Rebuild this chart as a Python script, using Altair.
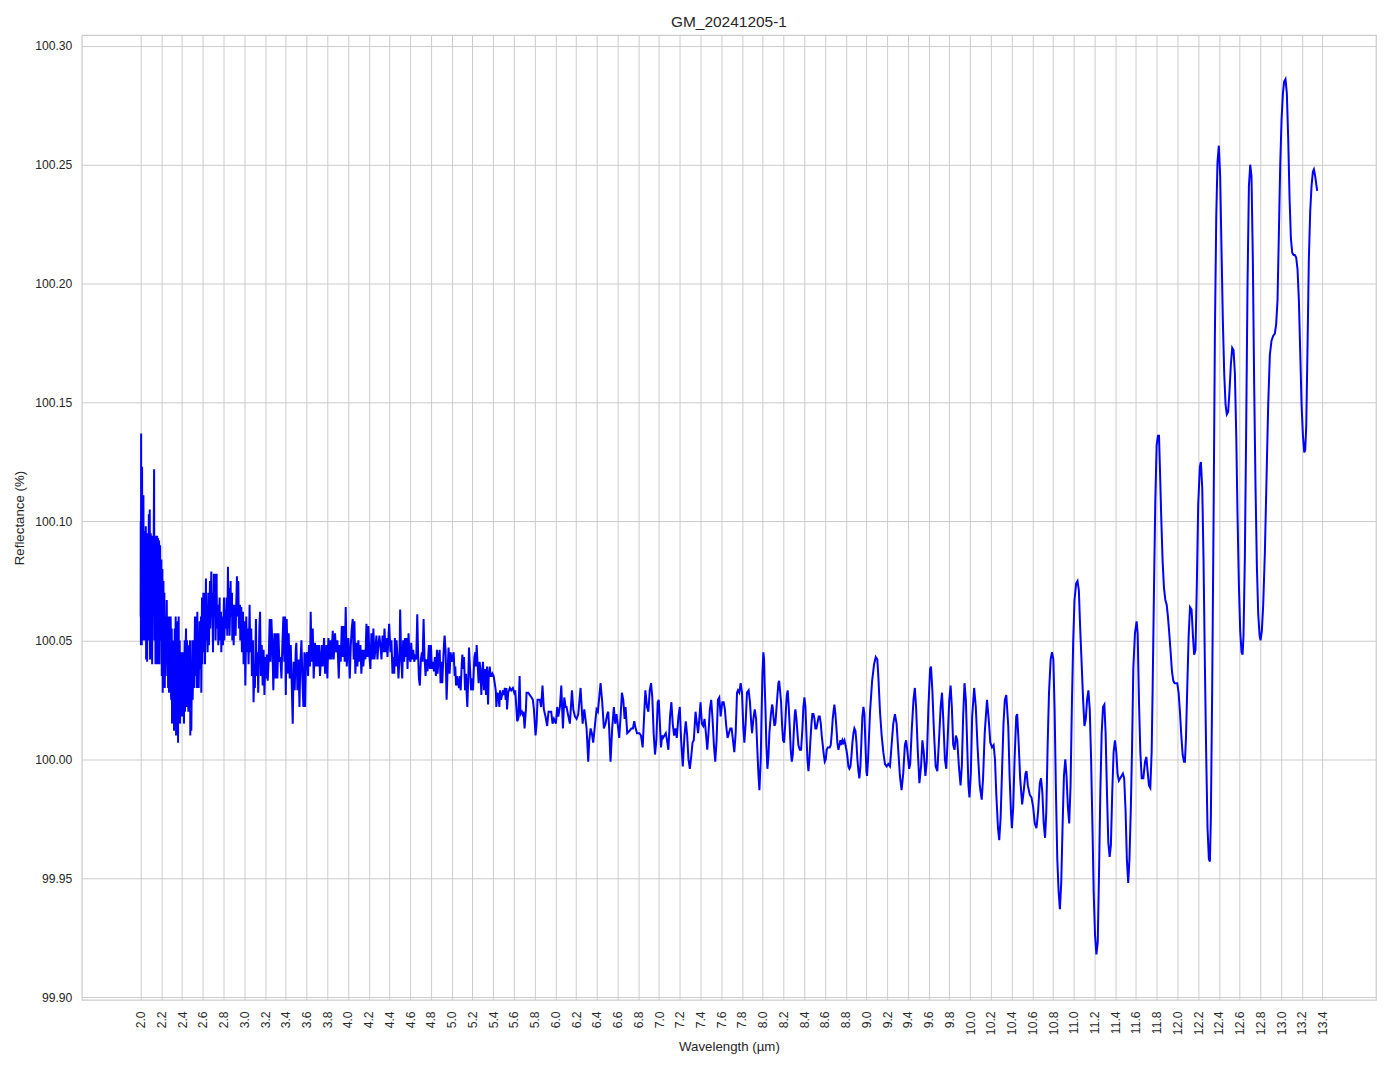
import altair as alt
import pandas as pd

# ---- spectrum in segments: (wavelength µm, reflectance %) ----
seg_a = [(2.000, 100.060), (2.001, 100.100), (2.003, 100.048), (2.005, 100.137), (2.007, 100.050),
         (2.009, 100.095), (2.011, 100.048), (2.014, 100.123), (2.018, 100.060), (2.021, 100.105),
         (2.024, 100.050), (2.027, 100.111), (2.030, 100.055), (2.034, 100.090), (2.037, 100.060),
         (2.040, 100.096), (2.043, 100.050), (2.047, 100.085), (2.050, 100.098), (2.053, 100.042),
         (2.056, 100.080), (2.059, 100.090), (2.063, 100.041), (2.066, 100.070), (2.069, 100.095),
         (2.072, 100.050), (2.076, 100.085), (2.079, 100.103), (2.082, 100.060), (2.088, 100.105),
         (2.091, 100.042), (2.095, 100.080), (2.098, 100.095), (2.101, 100.055), (2.104, 100.085),
         (2.107, 100.094), (2.111, 100.040), (2.114, 100.075), (2.117, 100.090), (2.120, 100.060),
         (2.125, 100.085), (2.130, 100.122), (2.133, 100.050), (2.137, 100.080), (2.140, 100.094),
         (2.143, 100.040), (2.146, 100.070), (2.149, 100.085), (2.152, 100.045), (2.156, 100.080),
         (2.159, 100.094), (2.162, 100.040), (2.165, 100.075), (2.168, 100.093), (2.172, 100.050),
         (2.175, 100.080), (2.178, 100.092), (2.181, 100.040), (2.185, 100.075), (2.188, 100.090),
         (2.191, 100.050), (2.196, 100.070), (2.200, 100.084), (2.204, 100.035), (2.207, 100.065),
         (2.210, 100.080), (2.213, 100.028), (2.217, 100.060), (2.220, 100.075), (2.223, 100.040),
         (2.226, 100.060), (2.229, 100.070), (2.233, 100.030), (2.236, 100.055), (2.239, 100.060),
         (2.242, 100.035), (2.247, 100.050), (2.252, 100.067), (2.255, 100.040), (2.258, 100.055),
         (2.261, 100.060), (2.265, 100.030), (2.268, 100.050), (2.271, 100.060), (2.274, 100.028),
         (2.278, 100.045), (2.281, 100.055), (2.284, 100.035), (2.287, 100.050), (2.290, 100.060),
         (2.294, 100.025), (2.297, 100.045), (2.300, 100.055), (2.303, 100.015), (2.306, 100.040),
         (2.310, 100.050), (2.313, 100.020), (2.316, 100.040), (2.319, 100.048), (2.322, 100.012),
         (2.326, 100.040), (2.329, 100.055), (2.332, 100.020), (2.335, 100.045), (2.338, 100.060),
         (2.342, 100.010), (2.345, 100.035), (2.348, 100.050), (2.351, 100.020), (2.355, 100.045),
         (2.358, 100.058), (2.361, 100.007), (2.364, 100.040), (2.367, 100.060), (2.370, 100.025),
         (2.374, 100.040), (2.377, 100.050), (2.380, 100.015), (2.384, 100.035), (2.387, 100.045),
         (2.390, 100.030), (2.393, 100.040), (2.396, 100.045), (2.399, 100.018), (2.403, 100.030),
         (2.406, 100.035), (2.409, 100.025), (2.412, 100.040), (2.415, 100.045), (2.418, 100.015),
         (2.422, 100.040), (2.425, 100.050), (2.428, 100.020), (2.433, 100.045), (2.438, 100.055),
         (2.441, 100.022), (2.444, 100.040), (2.447, 100.050), (2.450, 100.025), (2.454, 100.040),
         (2.457, 100.048), (2.460, 100.020), (2.464, 100.035), (2.467, 100.045), (2.470, 100.025),
         (2.473, 100.040), (2.476, 100.050), (2.479, 100.010), (2.483, 100.030), (2.486, 100.040),
         (2.489, 100.012), (2.494, 100.035), (2.499, 100.050)]

seg_b = [(2.502, 100.025), (2.507, 100.040), (2.512, 100.050), (2.515, 100.030), (2.520, 100.045),
         (2.524, 100.060), (2.528, 100.035), (2.533, 100.050), (2.537, 100.060), (2.541, 100.030),
         (2.547, 100.062), (2.550, 100.035), (2.557, 100.050), (2.560, 100.030), (2.565, 100.045),
         (2.569, 100.058), (2.573, 100.038), (2.578, 100.050), (2.582, 100.060), (2.585, 100.028),
         (2.592, 100.068), (2.595, 100.040), (2.600, 100.055), (2.605, 100.070), (2.608, 100.045),
         (2.613, 100.060), (2.618, 100.070), (2.621, 100.040), (2.626, 100.060), (2.630, 100.076),
         (2.634, 100.050), (2.640, 100.065), (2.646, 100.045), (2.653, 100.070), (2.659, 100.048),
         (2.664, 100.062), (2.669, 100.075), (2.672, 100.055), (2.677, 100.068), (2.682, 100.079),
         (2.685, 100.060), (2.691, 100.070), (2.698, 100.045), (2.703, 100.065), (2.707, 100.078),
         (2.711, 100.060), (2.716, 100.068), (2.720, 100.078), (2.723, 100.050), (2.728, 100.065),
         (2.733, 100.078), (2.736, 100.055), (2.741, 100.060), (2.746, 100.065), (2.749, 100.048),
         (2.756, 100.058), (2.762, 100.068), (2.765, 100.050), (2.770, 100.058), (2.775, 100.062),
         (2.778, 100.045), (2.787, 100.060), (2.794, 100.048), (2.800, 100.060), (2.804, 100.068),
         (2.807, 100.050), (2.816, 100.063), (2.820, 100.055), (2.829, 100.068), (2.836, 100.052),
         (2.842, 100.081), (2.849, 100.055), (2.855, 100.072), (2.858, 100.052), (2.864, 100.065),
         (2.868, 100.075), (2.871, 100.060), (2.881, 100.070), (2.884, 100.050), (2.893, 100.065),
         (2.897, 100.048), (2.903, 100.058), (2.909, 100.065), (2.916, 100.052), (2.922, 100.065),
         (2.929, 100.077), (2.932, 100.060), (2.942, 100.075), (2.948, 100.055), (2.958, 100.065),
         (2.961, 100.050), (2.971, 100.064), (2.977, 100.045), (2.987, 100.062), (2.993, 100.040),
         (3.003, 100.058), (3.010, 100.031), (3.019, 100.060), (3.026, 100.045), (3.035, 100.055),
         (3.041, 100.040), (3.051, 100.065), (3.057, 100.045), (3.067, 100.055), (3.073, 100.035),
         (3.083, 100.050), (3.089, 100.024), (3.099, 100.040), (3.102, 100.030), (3.112, 100.059),
         (3.118, 100.035), (3.128, 100.045), (3.134, 100.028)]

seg_c = [(3.145, 100.055), (3.152, 100.062), (3.160, 100.035), (3.168, 100.048), (3.177, 100.031),
         (3.186, 100.046), (3.194, 100.027), (3.203, 100.043), (3.210, 100.034), (3.217, 100.044),
         (3.226, 100.033), (3.235, 100.042), (3.245, 100.059), (3.252, 100.041), (3.261, 100.059),
         (3.271, 100.048), (3.280, 100.029), (3.290, 100.053), (3.300, 100.034), (3.310, 100.053),
         (3.319, 100.034), (3.329, 100.053), (3.338, 100.041), (3.348, 100.043), (3.358, 100.034),
         (3.367, 100.048), (3.377, 100.060), (3.386, 100.041), (3.393, 100.060), (3.400, 100.027),
         (3.409, 100.059), (3.419, 100.036), (3.428, 100.053), (3.438, 100.034), (3.448, 100.048),
         (3.457, 100.032), (3.467, 100.015), (3.476, 100.041), (3.486, 100.029), (3.496, 100.046),
         (3.502, 100.049), (3.512, 100.029), (3.522, 100.042), (3.532, 100.022), (3.541, 100.041),
         (3.551, 100.050), (3.560, 100.034), (3.570, 100.022), (3.580, 100.045), (3.586, 100.022),
         (3.595, 100.043), (3.605, 100.045), (3.615, 100.035), (3.624, 100.048), (3.634, 100.039),
         (3.640, 100.062), (3.650, 100.041), (3.660, 100.055), (3.669, 100.034), (3.682, 100.049),
         (3.692, 100.039), (3.701, 100.048), (3.711, 100.039), (3.721, 100.048), (3.730, 100.035),
         (3.747, 100.048), (3.756, 100.039), (3.769, 100.051), (3.779, 100.036), (3.792, 100.048),
         (3.801, 100.034), (3.811, 100.051), (3.821, 100.042), (3.830, 100.050), (3.840, 100.042),
         (3.853, 100.054), (3.862, 100.042), (3.875, 100.053), (3.885, 100.045), (3.898, 100.050),
         (3.911, 100.034), (3.920, 100.048), (3.930, 100.041), (3.940, 100.056), (3.950, 100.043),
         (3.959, 100.056), (3.968, 100.041), (3.978, 100.064), (3.988, 100.039), (3.998, 100.048),
         (4.004, 100.051), (4.017, 100.034), (4.027, 100.048), (4.036, 100.055), (4.046, 100.059),
         (4.055, 100.042), (4.062, 100.058), (4.071, 100.036), (4.081, 100.049), (4.091, 100.039),
         (4.100, 100.050), (4.110, 100.041), (4.120, 100.048), (4.129, 100.036), (4.139, 100.046),
         (4.148, 100.039), (4.158, 100.046), (4.168, 100.042), (4.178, 100.057), (4.187, 100.043),
         (4.197, 100.056), (4.207, 100.043), (4.216, 100.038), (4.226, 100.053), (4.236, 100.042),
         (4.245, 100.055), (4.255, 100.042), (4.264, 100.046), (4.274, 100.052), (4.284, 100.042),
         (4.293, 100.048), (4.303, 100.052), (4.316, 100.046)]

seg_d = [(4.323, 100.042), (4.333, 100.052), (4.342, 100.045), (4.352, 100.055), (4.362, 100.045),
         (4.371, 100.051), (4.381, 100.043), (4.391, 100.052), (4.397, 100.057), (4.410, 100.045),
         (4.419, 100.050), (4.429, 100.036), (4.439, 100.043), (4.446, 100.036), (4.452, 100.051),
         (4.462, 100.039), (4.468, 100.050), (4.478, 100.043), (4.487, 100.034), (4.497, 100.043),
         (4.503, 100.063), (4.513, 100.043), (4.523, 100.034), (4.532, 100.050), (4.542, 100.041),
         (4.549, 100.051), (4.558, 100.043), (4.568, 100.051), (4.574, 100.038), (4.584, 100.053),
         (4.594, 100.042), (4.603, 100.041), (4.610, 100.049), (4.619, 100.042), (4.629, 100.046),
         (4.639, 100.041), (4.648, 100.043), (4.658, 100.042), (4.668, 100.061), (4.677, 100.043),
         (4.684, 100.034), (4.693, 100.031), (4.703, 100.042), (4.713, 100.045), (4.719, 100.041),
         (4.729, 100.059), (4.738, 100.043), (4.748, 100.035), (4.758, 100.042), (4.767, 100.037),
         (4.774, 100.043), (4.780, 100.048), (4.790, 100.038), (4.800, 100.048), (4.809, 100.038),
         (4.819, 100.041), (4.829, 100.037), (4.838, 100.043), (4.848, 100.035), (4.858, 100.046),
         (4.864, 100.036), (4.874, 100.043), (4.884, 100.046), (4.893, 100.032), (4.903, 100.041),
         (4.909, 100.032), (4.919, 100.042), (4.925, 100.048), (4.932, 100.052), (4.941, 100.046),
         (4.951, 100.025), (4.961, 100.038), (4.970, 100.047), (4.980, 100.036), (4.990, 100.045),
         (5.000, 100.041), (5.009, 100.043), (5.019, 100.045), (5.029, 100.035), (5.035, 100.039),
         (5.042, 100.031), (5.051, 100.035), (5.061, 100.032), (5.071, 100.030), (5.077, 100.035),
         (5.087, 100.029), (5.096, 100.039), (5.103, 100.044), (5.112, 100.038), (5.119, 100.043),
         (5.129, 100.029), (5.138, 100.036), (5.145, 100.027), (5.151, 100.022), (5.161, 100.036),
         (5.167, 100.047), (5.177, 100.038), (5.187, 100.029), (5.196, 100.034), (5.206, 100.029),
         (5.212, 100.036), (5.219, 100.043), (5.228, 100.045), (5.235, 100.039), (5.241, 100.048),
         (5.251, 100.039), (5.260, 100.032), (5.270, 100.041), (5.280, 100.035), (5.286, 100.027),
         (5.296, 100.038), (5.302, 100.041), (5.312, 100.029), (5.322, 100.038), (5.331, 100.027),
         (5.341, 100.039), (5.351, 100.023), (5.357, 100.035), (5.367, 100.039), (5.376, 100.035),
         (5.386, 100.035), (5.393, 100.036), (5.405, 100.035), (5.415, 100.032), (5.425, 100.029),
         (5.431, 100.022), (5.441, 100.028), (5.450, 100.027), (5.460, 100.022), (5.467, 100.029),
         (5.476, 100.025), (5.486, 100.027), (5.496, 100.029), (5.505, 100.027), (5.512, 100.030),
         (5.521, 100.025), (5.528, 100.030), (5.534, 100.021)]

seg_e = [(5.545, 100.028), (5.561, 100.030), (5.574, 100.029), (5.590, 100.030), (5.603, 100.028),
         (5.613, 100.029), (5.619, 100.025), (5.632, 100.016), (5.642, 100.017), (5.655, 100.035),
         (5.664, 100.019), (5.677, 100.020), (5.684, 100.019), (5.693, 100.020), (5.703, 100.013),
         (5.716, 100.021), (5.722, 100.028), (5.738, 100.028), (5.754, 100.027), (5.770, 100.026),
         (5.783, 100.025), (5.793, 100.021), (5.809, 100.010), (5.819, 100.015), (5.828, 100.025),
         (5.841, 100.025), (5.851, 100.025), (5.863, 100.022), (5.876, 100.031), (5.889, 100.021),
         (5.905, 100.018), (5.921, 100.014), (5.934, 100.020), (5.947, 100.020), (5.960, 100.020),
         (5.973, 100.015), (5.986, 100.017), (6.005, 100.015), (6.018, 100.022), (6.028, 100.018),
         (6.044, 100.022), (6.057, 100.031), (6.073, 100.013), (6.086, 100.026), (6.099, 100.022),
         (6.108, 100.022), (6.121, 100.019), (6.140, 100.015), (6.160, 100.029), (6.173, 100.021),
         (6.189, 100.018), (6.205, 100.017), (6.221, 100.019), (6.243, 100.030), (6.263, 100.015),
         (6.279, 100.021), (6.301, 100.013), (6.317, 99.999), (6.327, 100.008), (6.340, 100.013),
         (6.352, 100.011), (6.365, 100.007), (6.381, 100.014), (6.397, 100.021), (6.410, 100.020),
         (6.436, 100.032), (6.452, 100.024), (6.468, 100.013), (6.484, 100.015), (6.500, 100.019),
         (6.510, 100.020), (6.519, 100.013), (6.532, 99.999), (6.548, 100.013), (6.564, 100.022),
         (6.577, 100.015), (6.590, 100.019), (6.603, 100.014), (6.616, 100.009), (6.629, 100.018),
         (6.642, 100.028), (6.655, 100.025), (6.668, 100.017), (6.677, 100.022), (6.693, 100.011),
         (6.716, 100.012), (6.732, 100.013)]

seg_f = [(6.748, 100.013), (6.761, 100.016), (6.774, 100.013), (6.787, 100.011), (6.810, 100.011),
         (6.826, 100.010), (6.842, 100.005), (6.858, 100.020), (6.868, 100.029), (6.884, 100.022),
         (6.897, 100.020), (6.910, 100.029), (6.923, 100.032), (6.935, 100.026), (6.948, 100.011),
         (6.961, 100.002), (6.974, 100.008), (6.987, 100.024), (6.997, 100.025), (7.006, 100.017),
         (7.019, 100.005), (7.029, 100.010), (7.039, 100.009), (7.052, 100.010), (7.065, 100.011),
         (7.077, 100.008), (7.090, 100.004), (7.106, 100.018), (7.119, 100.024), (7.132, 100.015),
         (7.145, 100.010), (7.158, 100.013), (7.171, 100.009), (7.187, 100.018), (7.200, 100.022),
         (7.213, 100.008), (7.229, 99.997), (7.245, 100.010), (7.258, 100.016), (7.271, 100.010),
         (7.284, 100.000), (7.297, 99.996), (7.310, 100.001), (7.323, 100.007), (7.335, 100.008),
         (7.352, 100.020), (7.365, 100.015), (7.377, 100.011), (7.390, 100.018), (7.400, 100.024),
         (7.413, 100.015), (7.426, 100.014), (7.439, 100.017), (7.452, 100.011), (7.465, 100.004),
         (7.477, 100.011), (7.490, 100.021), (7.503, 100.025), (7.516, 100.017), (7.529, 100.006),
         (7.542, 99.999), (7.555, 100.008), (7.568, 100.025), (7.581, 100.026), (7.594, 100.018),
         (7.610, 100.024), (7.623, 100.024), (7.635, 100.021), (7.648, 100.014), (7.661, 100.009),
         (7.674, 100.011), (7.687, 100.013), (7.700, 100.013), (7.713, 100.008), (7.726, 100.003),
         (7.739, 100.011), (7.752, 100.028), (7.761, 100.029), (7.774, 100.028), (7.787, 100.032),
         (7.800, 100.028), (7.813, 100.013), (7.823, 100.007), (7.835, 100.015), (7.848, 100.028),
         (7.864, 100.029), (7.877, 100.024), (7.888, 100.016)]

seg_g = [(7.897, 100.011), (7.910, 100.017), (7.923, 100.021), (7.936, 100.017), (7.946, 100.006),
         (7.958, 99.994), (7.968, 99.987), (7.981, 100.000), (7.987, 100.015), (7.997, 100.036),
         (8.006, 100.045), (8.013, 100.042), (8.019, 100.031), (8.026, 100.022), (8.035, 100.006),
         (8.045, 99.996), (8.055, 100.001), (8.064, 100.011), (8.077, 100.018), (8.090, 100.023),
         (8.096, 100.022), (8.103, 100.018), (8.113, 100.014), (8.122, 100.015), (8.132, 100.021),
         (8.142, 100.027), (8.151, 100.032), (8.158, 100.033), (8.167, 100.029), (8.177, 100.024),
         (8.187, 100.014), (8.196, 100.008), (8.206, 100.007), (8.216, 100.014), (8.225, 100.022),
         (8.232, 100.027), (8.241, 100.029), (8.251, 100.022), (8.261, 100.013), (8.270, 100.004),
         (8.280, 99.999), (8.290, 100.002), (8.299, 100.011), (8.309, 100.019), (8.315, 100.021),
         (8.325, 100.017), (8.335, 100.011), (8.344, 100.006), (8.357, 100.004), (8.370, 100.004),
         (8.383, 100.013), (8.392, 100.022), (8.402, 100.026), (8.412, 100.022), (8.421, 100.011),
         (8.431, 100.000), (8.441, 99.995), (8.450, 100.000), (8.460, 100.008), (8.470, 100.015),
         (8.479, 100.019), (8.489, 100.019), (8.499, 100.017), (8.508, 100.013), (8.518, 100.013),
         (8.531, 100.016), (8.540, 100.018), (8.550, 100.018), (8.560, 100.015), (8.569, 100.010),
         (8.579, 100.006), (8.589, 100.002), (8.598, 99.999), (8.608, 100.000), (8.617, 100.004),
         (8.627, 100.005), (8.637, 100.005), (8.646, 100.005), (8.656, 100.006), (8.666, 100.011),
         (8.675, 100.017), (8.685, 100.021), (8.691, 100.023), (8.701, 100.019), (8.711, 100.013),
         (8.720, 100.007), (8.730, 100.004), (8.740, 100.006), (8.749, 100.008), (8.759, 100.006),
         (8.769, 100.008), (8.778, 100.007), (8.788, 100.008), (8.798, 100.006), (8.807, 100.004),
         (8.817, 100.001), (8.826, 99.997), (8.836, 99.996), (8.846, 99.997), (8.855, 100.001),
         (8.865, 100.007), (8.875, 100.011), (8.884, 100.013), (8.894, 100.012), (8.904, 100.007),
         (8.913, 100.000), (8.923, 99.995), (8.932, 99.992), (8.942, 99.997), (8.952, 100.008),
         (8.961, 100.018), (8.971, 100.022), (8.981, 100.019), (8.990, 100.007), (9.000, 99.995),
         (9.006, 99.993), (9.016, 100.000), (9.035, 100.020), (9.055, 100.033), (9.074, 100.040),
         (9.090, 100.043), (9.105, 100.042)]

seg_h = [(9.116, 100.034), (9.131, 100.020), (9.147, 100.010), (9.163, 100.003), (9.179, 99.998),
         (9.195, 99.997), (9.211, 99.998), (9.227, 99.997), (9.243, 100.006), (9.259, 100.015),
         (9.275, 100.019), (9.291, 100.015), (9.307, 100.004), (9.323, 99.993), (9.339, 99.987),
         (9.355, 99.994), (9.371, 100.006), (9.383, 100.008), (9.396, 100.003), (9.412, 99.996),
         (9.422, 99.998), (9.438, 100.013), (9.454, 100.025), (9.467, 100.030), (9.479, 100.022),
         (9.495, 100.004), (9.511, 99.990), (9.527, 99.997), (9.540, 100.008), (9.553, 100.003),
         (9.569, 99.993), (9.582, 99.999), (9.598, 100.022), (9.614, 100.038), (9.623, 100.039),
         (9.636, 100.029), (9.652, 100.011), (9.668, 99.997), (9.684, 99.995), (9.700, 100.008),
         (9.716, 100.022), (9.729, 100.028), (9.741, 100.017), (9.757, 100.000), (9.770, 99.996),
         (9.783, 100.008), (9.799, 100.025), (9.812, 100.031), (9.824, 100.022), (9.837, 100.006),
         (9.850, 100.004), (9.863, 100.010), (9.876, 100.008), (9.892, 99.997), (9.908, 99.989),
         (9.920, 99.997), (9.933, 100.018), (9.946, 100.032), (9.959, 100.025), (9.972, 100.006),
         (9.984, 99.989), (9.994, 99.984), (10.007, 99.994), (10.020, 100.018), (10.039, 100.030),
         (10.055, 100.022), (10.071, 100.006), (10.093, 99.989), (10.112, 99.983), (10.125, 99.992),
         (10.141, 100.011), (10.163, 100.025), (10.179, 100.017), (10.195, 100.007), (10.211, 100.005),
         (10.227, 100.006), (10.240, 100.000), (10.253, 99.985), (10.269, 99.971), (10.281, 99.966),
         (10.294, 99.975), (10.308, 99.995), (10.322, 100.015), (10.335, 100.025), (10.349, 100.027)]

seg_i = [(10.368, 100.014), (10.381, 99.993), (10.394, 99.978), (10.403, 99.971), (10.416, 99.980),
         (10.429, 100.000), (10.445, 100.018), (10.454, 100.019), (10.467, 100.008), (10.483, 99.992),
         (10.502, 99.981), (10.518, 99.987), (10.534, 99.994), (10.544, 99.995), (10.557, 99.989),
         (10.576, 99.985), (10.592, 99.984), (10.608, 99.980), (10.624, 99.973), (10.640, 99.971),
         (10.656, 99.978), (10.672, 99.990), (10.684, 99.992), (10.697, 99.986), (10.710, 99.973),
         (10.723, 99.967), (10.735, 99.978), (10.748, 100.006), (10.761, 100.028), (10.777, 100.042),
         (10.790, 100.045), (10.803, 100.042), (10.815, 100.021), (10.828, 99.986), (10.841, 99.958),
         (10.854, 99.944), (10.866, 99.937), (10.879, 99.948), (10.892, 99.972), (10.905, 99.993),
         (10.918, 100.000), (10.930, 99.993), (10.943, 99.980), (10.956, 99.973), (10.969, 99.989),
         (10.981, 100.021), (10.994, 100.049), (11.007, 100.067), (11.023, 100.074), (11.036, 100.075),
         (11.049, 100.071), (11.061, 100.056), (11.077, 100.039), (11.090, 100.025), (11.103, 100.014),
         (11.116, 100.017), (11.128, 100.025), (11.141, 100.029), (11.154, 100.021), (11.167, 100.000),
         (11.180, 99.972), (11.192, 99.944), (11.205, 99.926), (11.218, 99.918), (11.231, 99.923),
         (11.243, 99.951), (11.256, 99.986), (11.269, 100.011), (11.282, 100.022), (11.295, 100.023),
         (11.307, 100.011), (11.320, 99.986), (11.333, 99.965), (11.346, 99.959), (11.358, 99.964),
         (11.371, 99.986), (11.384, 100.003), (11.397, 100.008), (11.410, 100.003), (11.422, 99.994),
         (11.435, 99.991), (11.448, 99.992), (11.461, 99.993), (11.474, 99.994), (11.486, 99.992),
         (11.499, 99.979), (11.512, 99.958), (11.525, 99.948), (11.537, 99.958), (11.550, 99.979)]

seg_j = [(11.562, 100.005), (11.574, 100.038), (11.590, 100.053), (11.606, 100.058), (11.616, 100.053),
         (11.629, 100.024), (11.642, 100.003), (11.655, 99.992), (11.671, 99.992), (11.687, 99.999),
         (11.700, 100.001), (11.712, 99.995), (11.725, 99.989), (11.738, 99.988), (11.751, 100.003),
         (11.761, 100.031), (11.774, 100.073), (11.786, 100.108), (11.799, 100.132), (11.812, 100.136),
         (11.822, 100.136), (11.831, 100.122), (11.844, 100.101), (11.857, 100.083), (11.870, 100.072),
         (11.883, 100.067), (11.896, 100.065), (11.908, 100.060), (11.921, 100.053), (11.934, 100.045),
         (11.947, 100.037), (11.960, 100.033), (11.973, 100.032), (11.986, 100.032), (11.998, 100.032),
         (12.011, 100.028), (12.024, 100.020), (12.037, 100.010), (12.050, 100.002), (12.063, 99.999),
         (12.072, 99.999), (12.082, 100.009), (12.095, 100.031), (12.108, 100.052), (12.121, 100.064)]

seg_k = [(12.136, 100.063), (12.149, 100.052), (12.161, 100.044), (12.174, 100.046), (12.187, 100.074),
         (12.200, 100.107), (12.216, 100.123), (12.226, 100.125), (12.239, 100.114), (12.251, 100.085),
         (12.264, 100.041), (12.277, 100.002), (12.290, 99.971), (12.303, 99.958), (12.313, 99.957),
         (12.322, 99.975), (12.335, 100.030), (12.348, 100.100), (12.361, 100.179), (12.374, 100.228),
         (12.386, 100.251), (12.399, 100.258), (12.412, 100.245), (12.425, 100.214), (12.438, 100.184),
         (12.451, 100.162), (12.464, 100.149), (12.476, 100.145), (12.489, 100.146), (12.502, 100.155),
         (12.515, 100.166), (12.528, 100.173), (12.541, 100.172), (12.554, 100.162), (12.567, 100.136),
         (12.579, 100.103), (12.592, 100.074), (12.605, 100.054), (12.618, 100.045), (12.628, 100.044),
         (12.637, 100.052), (12.650, 100.085), (12.663, 100.140), (12.676, 100.201), (12.689, 100.241),
         (12.702, 100.250), (12.714, 100.245), (12.727, 100.210), (12.740, 100.157), (12.753, 100.114),
         (12.766, 100.081), (12.779, 100.061), (12.792, 100.052), (12.801, 100.050), (12.814, 100.054),
         (12.827, 100.065), (12.843, 100.087), (12.859, 100.118), (12.875, 100.149), (12.891, 100.170),
         (12.907, 100.176), (12.923, 100.178), (12.939, 100.179), (12.952, 100.183), (12.965, 100.193),
         (12.978, 100.221), (12.991, 100.250), (13.004, 100.269), (13.017, 100.280), (13.029, 100.285),
         (13.042, 100.286), (13.055, 100.280), (13.068, 100.261), (13.081, 100.236), (13.094, 100.219),
         (13.107, 100.213), (13.120, 100.212), (13.132, 100.212), (13.145, 100.211), (13.158, 100.206),
         (13.171, 100.193), (13.184, 100.171), (13.197, 100.149), (13.210, 100.136), (13.223, 100.129),
         (13.232, 100.130), (13.242, 100.140), (13.255, 100.175), (13.267, 100.210), (13.280, 100.230),
         (13.293, 100.241), (13.306, 100.247), (13.316, 100.248), (13.329, 100.245), (13.341, 100.241),
         (13.348, 100.239)]

segments = [seg_a, seg_b, seg_c, seg_d, seg_e, seg_f, seg_g, seg_h, seg_i, seg_j, seg_k]

x_ticks = [2.0, 2.2, 2.4, 2.6, 2.8, 3.0, 3.2, 3.4, 3.6, 3.8, 4.0, 4.2, 4.4, 4.6, 4.8, 5.0,
           5.2, 5.4, 5.6, 5.8, 6.0, 6.2, 6.4, 6.6, 6.8, 7.0, 7.2, 7.4, 7.6, 7.8, 8.0, 8.2,
           8.4, 8.6, 8.8, 9.0, 9.2, 9.4, 9.6, 9.8, 10.0, 10.2, 10.4, 10.6, 10.8, 11.0, 11.2,
           11.4, 11.6, 11.8, 12.0, 12.2, 12.4, 12.6, 12.8, 13.0, 13.2, 13.4]
y_ticks = [99.90, 99.95, 100.00, 100.05, 100.10, 100.15, 100.20, 100.25, 100.30]

rows = []
for seg in segments:
    for w, r in seg:
        rows.append({"wl": w, "r": r, "i": len(rows)})
df = pd.DataFrame(rows)

FONT = "Liberation Sans"
TXT = "#262626"

chart = alt.Chart(df).mark_line(color="#0000ff", strokeWidth=2.0, clip=True).encode(
    x=alt.X("wl:Q",
            scale=alt.Scale(domain=[1.433, 13.915], nice=False, zero=False),
            axis=alt.Axis(values=x_ticks, format=".1f", labelAngle=-90,
                          title="Wavelength (µm)", labelPadding=11, titlePadding=5)),
    y=alt.Y("r:Q",
            scale=alt.Scale(domain=[99.8988, 100.3045], nice=False, zero=False),
            axis=alt.Axis(values=y_ticks, format=".2f",
                          title="Reflectance (%)", labelPadding=10, titlePadding=8)),
    order="i:Q",
).properties(
    width=1297,
    height=967,
    title=alt.Title("GM_20241205-1", fontSize=15.5, font=FONT, color=TXT,
                    fontWeight="normal", anchor="middle", offset=5),
    autosize=alt.AutoSizeParams(type="none"),
    padding={"left": 74, "top": 26, "right": 10, "bottom": 60},
).configure_view(
    stroke="#cccccc", strokeWidth=1.25
).configure_axis(
    grid=True, gridColor="#cccccc", gridWidth=1, domain=False, ticks=False,
    labelFont=FONT, labelFontSize=12.2, labelColor=TXT,
    titleFont=FONT, titleFontSize=13.3, titleColor=TXT, titleFontWeight="normal",
)

chart.save("out.html", embed_options={"renderer": "svg", "actions": False})
